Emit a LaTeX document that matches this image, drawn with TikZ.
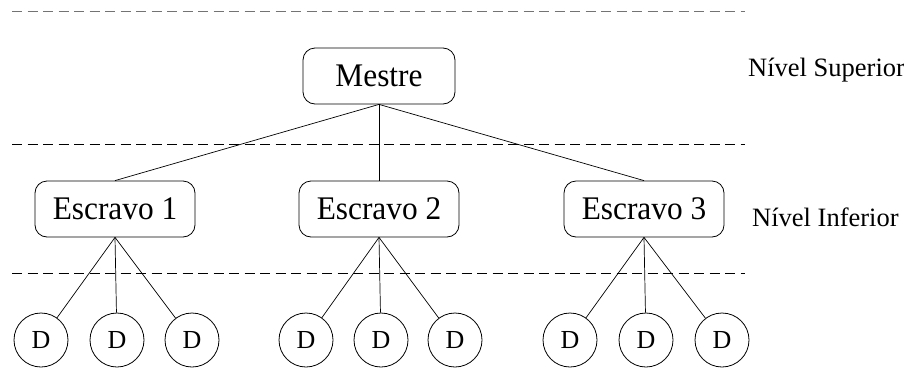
\documentclass[tikz,border=0pt]{standalone}
\usepackage{fontspec}
\setmainfont{Liberation Serif}
\newfontfamily\boxfont[FakeStretch=0.95]{Liberation Serif}
\begin{document}
\begin{tikzpicture}[x=1pt,y=-1pt,
  boxnode/.style={draw, rounded corners=12pt, minimum height=56pt, inner sep=0pt, line width=0.8pt, font=\boxfont\fontsize{33}{35}\selectfont},
  dnode/.style={draw, circle, minimum size=54pt, inner sep=0pt, line width=0.8pt, font=\fontsize{26}{28}\selectfont},
  sep/.style={dash pattern=on 10pt off 5.5pt, line width=0.9pt},
  lvl/.style={anchor=west, inner sep=0pt, font=\fontsize{26.5}{28}\selectfont},
  conn/.style={line width=0.7pt}]
\useasboundingbox (0,0) rectangle (904,370);
% separators
\coordinate (t0) at (12,11); \coordinate (t1) at (745,11);
\coordinate (m0) at (12,144); \coordinate (m1) at (745,144);
\coordinate (b0) at (12,273); \coordinate (b1) at (745,273);
\draw[sep, draw=black!55] (t0) -- (t1);
\draw[sep] (m0) -- (m1);
\draw[sep] (b0) -- (b1);
% nodes
\node[boxnode, minimum width=152pt] (M) at (379,76) {Mestre};
\node[boxnode, minimum width=160pt] (E1) at (115,209) {Escravo 1};
\node[boxnode, minimum width=160pt] (E2) at (379,209) {Escravo 2};
\node[boxnode, minimum width=160pt] (E3) at (644,209) {Escravo 3};
\node[dnode] (D11) at (41,340) {D};
\node[dnode] (D12) at (117,340) {D};
\node[dnode] (D13) at (192,340) {D};
\node[dnode] (D21) at (306,340) {D};
\node[dnode] (D22) at (381,340) {D};
\node[dnode] (D23) at (455,340) {D};
\node[dnode] (D31) at (570,340) {D};
\node[dnode] (D32) at (646,340) {D};
\node[dnode] (D33) at (722,340) {D};
\node[lvl] (NS) at (748,70) {Nível Superior};
\node[lvl] (NI) at (752,217) {Nível Inferior};
% connectors
\foreach \e in {E1,E2,E3} \draw[conn] (M.south) -- (\e.north);
\foreach \i in {1,2,3} {
  \draw[conn] (E1.south) -- (D1\i);
  \draw[conn] (E2.south) -- (D2\i);
  \draw[conn] (E3.south) -- (D3\i);
}
\end{tikzpicture}
\end{document}
